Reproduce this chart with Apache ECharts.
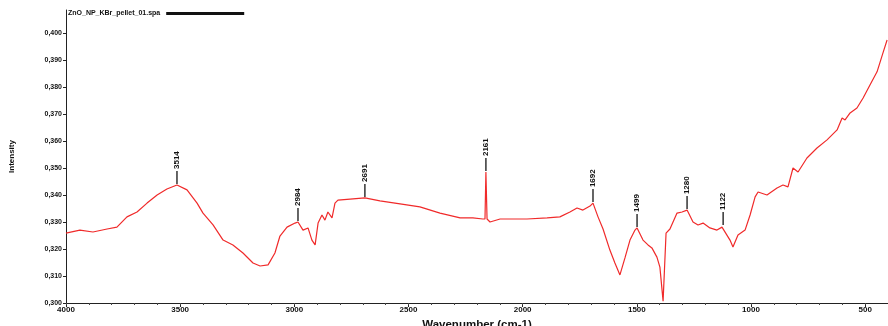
<!DOCTYPE html>
<html>
<head>
<meta charset="utf-8">
<script src="https://cdn.jsdelivr.net/npm/echarts@6/dist/echarts.min.js"></script>
<style>
  html, body { margin: 0; padding: 0; background: #fff; }
  #chart { width: 888px; height: 326px; }
</style>
</head>
<body>
<div id="chart"></div>
<script>
// FTIR spectrum: wavenumber (cm-1) vs. signal
const sampleName = 'ZnO_NP_KBr_pellet_01.spa';
const wavenumbers = [
  4000, 3939, 3882, 3820, 3777, 3733, 3689, 3645, 3601, 3558, 3514, 3470, 3426, 3400,
  3356, 3312, 3269, 3225, 3181, 3150, 3115, 3085, 3063, 3032, 2997, 2984, 2962, 2940,
  2923, 2909, 2896, 2879, 2866, 2853, 2835, 2822, 2809, 2756, 2691, 2625, 2537, 2450,
  2362, 2274, 2218, 2174, 2165, 2161, 2156, 2143, 2099, 1981, 1893, 1837, 1793, 1762,
  1736, 1705, 1692, 1670, 1648, 1618, 1596, 1574, 1552, 1530, 1508, 1499, 1473, 1451,
  1434, 1412, 1399, 1385, 1372, 1355, 1324, 1302, 1280, 1254, 1232, 1210, 1180, 1149,
  1127, 1122, 1092, 1079, 1057, 1026, 1004, 982, 969, 930, 886, 860, 838, 816, 794, 755,
  711, 667, 623, 601, 588, 566, 536, 509, 479, 448, 422, 404
];
const signal = [
  0.3259, 0.3270, 0.3263, 0.3274, 0.3281, 0.3319, 0.3337, 0.3370, 0.3400, 0.3422, 0.3437, 0.3419, 0.3370, 0.3333,
  0.3289, 0.3233, 0.3215, 0.3185, 0.3148, 0.3137, 0.3141, 0.3185, 0.3248, 0.3281, 0.3296, 0.3300, 0.3270, 0.3278,
  0.3233, 0.3215, 0.3296, 0.3326, 0.3307, 0.3337, 0.3315, 0.3370, 0.3381, 0.3385, 0.3389, 0.3378, 0.3367, 0.3356,
  0.3333, 0.3315, 0.3315, 0.3311, 0.3311, 0.3485, 0.3311, 0.3300, 0.3311, 0.3311, 0.3315, 0.3319, 0.3337, 0.3352,
  0.3344, 0.3359, 0.3370, 0.3319, 0.3274, 0.3196, 0.3148, 0.3104, 0.3167, 0.3233, 0.3270, 0.3278, 0.3233, 0.3215,
  0.3204, 0.3170, 0.3133, 0.3007, 0.3259, 0.3274, 0.3333, 0.3337, 0.3344, 0.3300, 0.3289, 0.3296, 0.3278, 0.3270,
  0.3281, 0.3285, 0.3233, 0.3207, 0.3252, 0.3270, 0.3326, 0.3393, 0.3411, 0.3400, 0.3426, 0.3437, 0.3430, 0.3500, 0.3485, 0.3537,
  0.3574, 0.3604, 0.3641, 0.3685, 0.3678, 0.3704, 0.3722, 0.3759, 0.3807, 0.3856, 0.3926, 0.3974
];
// labelled peak positions (must sit on the spectrum)
const peakWavenumbers = [3514, 2984, 2691, 2161, 1692, 1499, 1280, 1122];
const peakSignal = [0.3437, 0.3300, 0.3389, 0.3485, 0.3370, 0.3278, 0.3344, 0.3285];
const xTickLabels = [4000, 3500, 3000, 2500, 2000, 1500, 1000, 500];
const yTickValues = [0.30, 0.31, 0.32, 0.33, 0.34, 0.35, 0.36, 0.37, 0.38, 0.39, 0.40];

const FONT = '"Liberation Sans", Arial, sans-serif';
const spectrum = wavenumbers.map((w, i) => [w, signal[i]]);
const peaks = peakWavenumbers.map((w, i) => [w, peakSignal[i]]);

const chart = echarts.init(document.getElementById('chart'), null, { renderer: 'canvas' });
chart.setOption({
  animation: false,
  backgroundColor: '#fff',
  legend: {
    left: 68, top: 10, align: 'right', itemWidth: 78, itemHeight: 3, itemGap: 0,
    padding: 0,
    textStyle: { fontFamily: FONT, fontSize: 7, fontWeight: 'bold', color: '#111', padding: [0, 1, 0, 0] },
    data: [{ name: sampleName, icon: 'rect', itemStyle: { color: '#111' }, lineStyle: { color: '#111' } }]
  },
  grid: { left: 66, right: 0, top: 10, bottom: 23, containLabel: false, outerBoundsMode: 'none' },
  xAxis: [{
    type: 'value', inverse: true, min: 400, max: 4000,
    name: 'Wavenumber (cm-1)', nameLocation: 'middle', nameGap: 14,
    nameTextStyle: { fontFamily: FONT, fontSize: 11.5, fontWeight: 'bold', color: '#111' },
    axisLine: { show: true, lineStyle: { color: '#222', width: 1 } },
    axisTick: { show: true, length: 4, customValues: xTickLabels, lineStyle: { color: '#222' } },
    axisLabel: {
      customValues: xTickLabels, fontFamily: FONT, fontSize: 8, fontWeight: 'bold', color: '#111', margin: 3,
      formatter: v => String(v)
    },
    splitLine: { show: false }
  }, {
    // minor ticks every 100 cm-1
    type: 'value', inverse: true, min: 400, max: 4000, interval: 100, position: 'bottom', offset: 0,
    axisLine: { show: true, lineStyle: { color: 'rgba(0,0,0,0)' } },
    axisTick: { show: true, length: 2, lineStyle: { color: '#444' } },
    axisLabel: { show: false },
    splitLine: { show: false }
  }],
  yAxis: {
    type: 'value', min: 0.30, max: 0.4085,
    name: 'Intensity', nameLocation: 'middle', nameGap: 50, nameRotate: 90,
    nameTextStyle: { fontFamily: FONT, fontSize: 8, fontWeight: 'bold', color: '#111' },
    axisLine: { show: true, lineStyle: { color: '#222', width: 1 } },
    axisTick: { show: true, length: 3, customValues: yTickValues, lineStyle: { color: '#222' } },
    axisLabel: {
      customValues: yTickValues, fontFamily: FONT, fontSize: 7, fontWeight: 'bold', color: '#111', margin: 4,
      formatter: v => v.toFixed(3).replace('.', ',')
    },
    splitLine: { show: false }
  },
  series: [{
    name: sampleName, type: 'line', data: spectrum, showSymbol: false, smooth: false,
    lineStyle: { color: '#f02a2a', width: 1.2 }, itemStyle: { color: '#111' }, z: 2
  }, {
    name: 'peaks', type: 'custom', data: peaks, z: 3,
    renderItem: (params, api) => {
      const w = api.value(0);
      const p = api.coord([w, api.value(1)]);
      return {
        type: 'group',
        children: [{
          type: 'line',
          shape: { x1: p[0], y1: p[1] - 1, x2: p[0], y2: p[1] - 14 },
          style: { stroke: '#333', lineWidth: 1.5 }
        }, {
          type: 'text', x: p[0], y: p[1] - 16, rotation: Math.PI / 2,
          style: {
            text: String(w), font: 'bold 8px ' + FONT, fill: '#111',
            align: 'left', verticalAlign: 'middle'
          }
        }]
      };
    }
  }]
});
</script>
</body>
</html>
